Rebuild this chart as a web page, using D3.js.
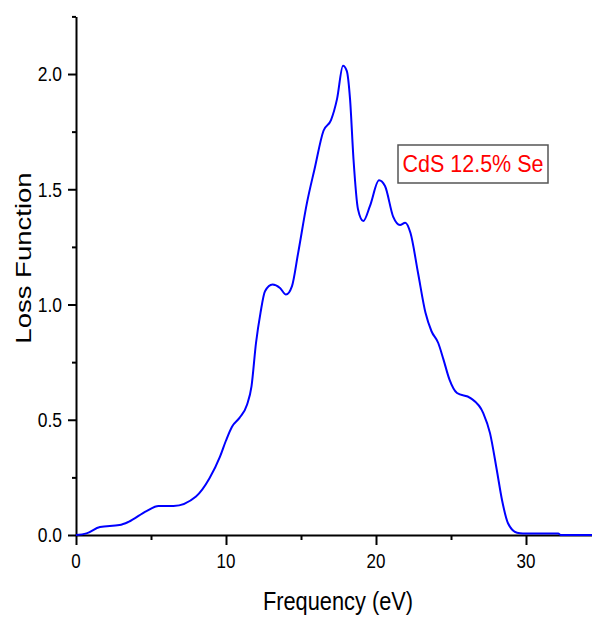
<!DOCTYPE html>
<html>
<head>
<meta charset="utf-8">
<script src="https://cdn.jsdelivr.net/npm/d3@7"></script>
<style>
  html, body { margin: 0; padding: 0; background: #fff; }
  svg { display: block; }
  text { font-family: "Liberation Sans", Arial, sans-serif; }
</style>
</head>
<body>
<svg id="chart" width="592" height="618"></svg>
<script>
// ---- data ----
const freq = [0, 0.7, 1.6, 2.9, 3.5, 4.7, 5.5, 6.5, 8.0, 8.9, 9.6, 10.0, 10.4, 10.9, 11.4, 11.7,
  12.0, 12.3, 12.6, 13.1, 13.6, 14.0, 14.4, 14.8, 15.4, 15.9, 16.5, 17.0, 17.4, 17.8, 18.05,
  18.27, 18.5, 18.8, 19.15, 19.6, 20.2, 20.6, 21.15, 21.6, 21.95, 22.3, 22.8, 23.3, 23.7,
  24.15, 24.5, 24.9, 25.4, 26.3, 27.15, 27.6, 28.05, 28.4, 28.8, 29.4, 29.8, 32.15, 32.3, 34.4];
const loss = [0, 0.007, 0.035, 0.043, 0.057, 0.104, 0.126, 0.126, 0.167, 0.246, 0.34, 0.41, 0.47, 0.508, 0.565, 0.645,
  0.833, 0.964, 1.058, 1.087, 1.072, 1.043, 1.08, 1.22, 1.442, 1.587, 1.754, 1.80, 1.891, 2.036, 2.014,
  1.891, 1.63, 1.413, 1.362, 1.428, 1.539, 1.514, 1.38, 1.345, 1.355, 1.31, 1.138, 0.964, 0.884,
  0.833, 0.761, 0.674, 0.616, 0.594, 0.529, 0.442, 0.283, 0.152, 0.051, 0.01, 0.007, 0.007, 0, 0];
const xMajorTicks = [0, 10, 20, 30];
const xMinorTicks = [5, 15, 25];
const yMajorTicks = [0, 0.5, 1.0, 1.5, 2.0];
const yMinorTicks = [0.25, 0.75, 1.25, 1.75, 2.25];
const xTitle = "Frequency (eV)";
const yTitle = "Loss Function";
const seriesLabel = "CdS 12.5% Se";

// ---- layout ----
const svg = d3.select("#chart");
const x = d3.scaleLinear().domain([0, 34.4]).range([76, 592]);
const y = d3.scaleLinear().domain([0, 2.25]).range([535, 16.4]);

// curve
const data = freq.map((f, i) => ({ f, v: loss[i] }));
const line = d3.line().x(d => x(d.f)).y(d => y(d.v)).curve(d3.curveMonotoneX);

// axes
const gx = svg.append("g").attr("transform", `translate(0,${y(0)})`);
gx.call(d3.axisBottom(x).tickValues(xMajorTicks).tickSize(10).tickSizeOuter(0).tickFormat(""));
gx.append("g").call(d3.axisBottom(x).tickValues(xMinorTicks).tickSize(5).tickSizeOuter(0).tickFormat(""))
  .select(".domain").remove();

const gy = svg.append("g").attr("transform", `translate(${x(0)},0)`);
gy.call(d3.axisLeft(y).tickValues(yMajorTicks).tickSize(8).tickSizeOuter(0).tickFormat(""));
gy.append("g").call(d3.axisLeft(y).tickValues(yMinorTicks).tickSize(4).tickSizeOuter(0).tickFormat(""))
  .select(".domain").remove();

svg.selectAll(".domain").attr("stroke", "#000").attr("stroke-width", 2);
svg.selectAll(".tick line").attr("stroke", "#000").attr("stroke-width", 2);

// curve drawn over the axis
svg.append("path").datum(data)
  .attr("d", line)
  .attr("fill", "none")
  .attr("stroke", "#0000ff")
  .attr("stroke-width", 2)
  .attr("stroke-linejoin", "round");

// tick labels
svg.append("g").selectAll("text").data(yMajorTicks).join("text")
  .attr("transform", d => `translate(62,${y(d)}) scale(1,1.2)`)
  .attr("dy", "0.35em")
  .attr("text-anchor", "end")
  .attr("font-size", 17.5)
  .attr("fill", "#000")
  .text(d3.format(".1f"));

svg.append("g").selectAll("text").data(xMajorTicks).join("text")
  .attr("transform", d => `translate(${x(d)},560.5) scale(1,1.2)`)
  .attr("dy", "0.35em")
  .attr("text-anchor", "middle")
  .attr("font-size", 17)
  .attr("fill", "#000")
  .text(d => d);

// axis titles
svg.append("text")
  .attr("transform", "translate(338,610) scale(1,1.15)")
  .attr("text-anchor", "middle")
  .attr("font-size", 21.8)
  .attr("fill", "#000")
  .text(xTitle);

svg.append("text")
  .attr("transform", "translate(31,258) rotate(-90) scale(1.28,1)")
  .attr("text-anchor", "middle")
  .attr("font-size", 21.5)
  .attr("fill", "#000")
  .text(yTitle);

// legend
svg.append("rect")
  .attr("x", 398).attr("y", 145).attr("width", 150).attr("height", 38)
  .attr("fill", "#fff").attr("stroke", "#555").attr("stroke-width", 1.5);
svg.append("text")
  .attr("transform", "translate(473,172) scale(1,1.1)")
  .attr("text-anchor", "middle")
  .attr("font-size", 21.5)
  .attr("fill", "#ff0000")
  .text(seriesLabel);
</script>
</body>
</html>
